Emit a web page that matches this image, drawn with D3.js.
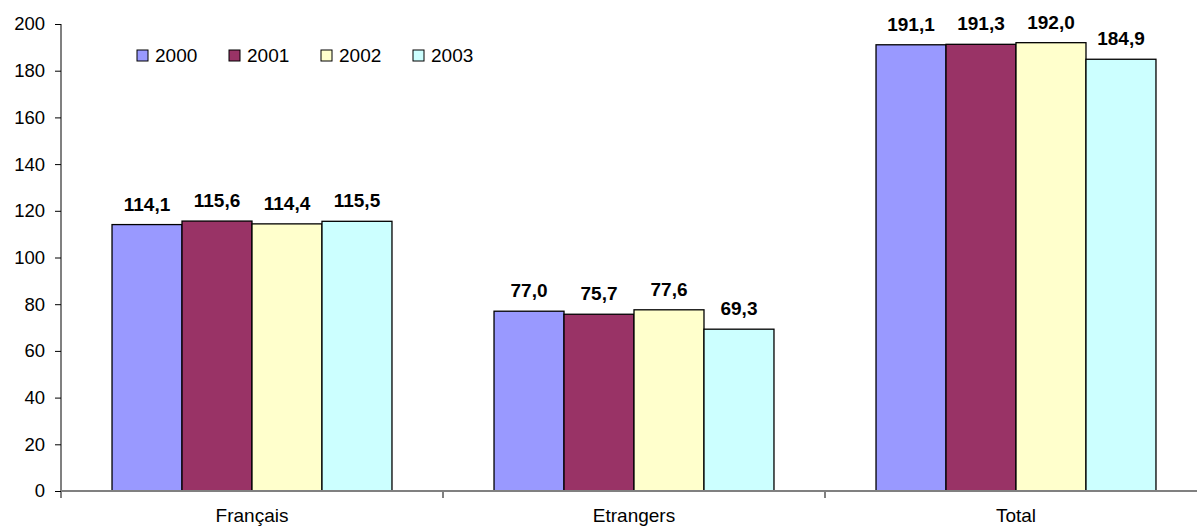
<!DOCTYPE html>
<html>
<head>
<meta charset="utf-8">
<script src="https://cdn.jsdelivr.net/npm/d3@7/dist/d3.min.js"></script>
<style>
  html, body { margin: 0; padding: 0; background: #fff; }
  svg { display: block; }
  text { font-family: "Liberation Sans", Arial, sans-serif; }
</style>
</head>
<body>
<svg id="chart" width="1197" height="527"></svg>
<script>
const categories = ["Français", "Etrangers", "Total"];
const seriesNames = ["2000", "2001", "2002", "2003"];
const values2000 = [114.1, 77.0, 191.1];
const values2001 = [115.6, 75.7, 191.3];
const values2002 = [114.4, 77.6, 192.0];
const values2003 = [115.5, 69.3, 184.9];
const yTicks = [0, 20, 40, 60, 80, 100, 120, 140, 160, 180, 200];
const colors = ["#9999FF", "#993366", "#FFFFCC", "#CCFFFF"];

const seriesValues = [values2000, values2001, values2002, values2003];

const svg = d3.select("#chart");
const mLeft = 61, mBottom = 491, mTop = 24;
const bandW = 382;

const x0 = d3.scaleBand().domain(categories).range([mLeft, mLeft + bandW * categories.length]).paddingInner(0).paddingOuter(0);
const x1 = d3.scaleBand().domain(seriesNames).range([0, x0.bandwidth()]).paddingInner(0).paddingOuter(0.729);
const y = d3.scaleLinear().domain([0, 200]).range([mBottom, mTop]);

const fmt = v => v.toFixed(1).replace(".", ",");

// bars
const groups = svg.append("g").selectAll("g")
  .data(categories)
  .join("g")
  .attr("transform", d => `translate(${x0(d)},0)`);

groups.selectAll("rect")
  .data((d, i) => seriesNames.map((s, j) => ({ s, j, v: seriesValues[j][i] })))
  .join("rect")
  .attr("x", d => x1(d.s))
  .attr("y", d => y(d.v))
  .attr("width", x1.bandwidth())
  .attr("height", d => mBottom - y(d.v))
  .attr("fill", d => colors[d.j])
  .attr("stroke", "#000")
  .attr("stroke-width", 1.3);

groups.selectAll("text.lbl")
  .data((d, i) => seriesNames.map((s, j) => ({ s, j, v: seriesValues[j][i] })))
  .join("text")
  .attr("class", "lbl")
  .attr("x", d => x1(d.s) + x1.bandwidth() / 2)
  .attr("y", d => y(d.v) - 14)
  .attr("text-anchor", "middle")
  .attr("font-weight", "bold")
  .attr("font-size", "19px")
  .attr("fill", "#000")
  .text(d => fmt(d.v));

// y axis
const yAxis = d3.axisLeft(y).tickValues(yTicks).tickSize(6).tickPadding(10).tickFormat(d3.format("d"));
const gy = svg.append("g").attr("transform", `translate(${mLeft},0)`).call(yAxis);
gy.select(".domain").attr("stroke", "#808080").attr("stroke-width", 2).attr("d", `M0,${mTop}V${mBottom + 7}`);
gy.selectAll(".tick line").attr("stroke", "#000");
gy.selectAll(".tick text").attr("font-size", "18.5px").attr("fill", "#000").attr("font-family", "'Liberation Sans', Arial, sans-serif");

// x axis
const gx = svg.append("g").attr("transform", `translate(0,${mBottom})`);
gx.append("line").attr("x1", mLeft).attr("x2", 1197).attr("y1", 0).attr("y2", 0)
  .attr("stroke", "#808080").attr("stroke-width", 2);
gx.selectAll("line.tk")
  .data(categories.slice(1))
  .join("line")
  .attr("class", "tk")
  .attr("x1", d => x0(d)).attr("x2", d => x0(d))
  .attr("y1", 0).attr("y2", 7)
  .attr("stroke", "#808080").attr("stroke-width", 2);
gx.selectAll("text")
  .data(categories)
  .join("text")
  .attr("x", d => x0(d) + x0.bandwidth() / 2)
  .attr("y", 31)
  .attr("text-anchor", "middle")
  .attr("font-size", "19px")
  .attr("fill", "#000")
  .text(d => d);

// legend
const legend = svg.append("g").selectAll("g")
  .data(seriesNames)
  .join("g")
  .attr("transform", (d, i) => `translate(${137 + i * 92},50)`);
legend.append("rect")
  .attr("width", 11).attr("height", 11)
  .attr("fill", (d, i) => colors[i])
  .attr("stroke", "#000").attr("stroke-width", 1);
legend.append("text")
  .attr("x", 18).attr("y", 12)
  .attr("font-size", "19px")
  .attr("fill", "#000")
  .text(d => d);
</script>
</body>
</html>
